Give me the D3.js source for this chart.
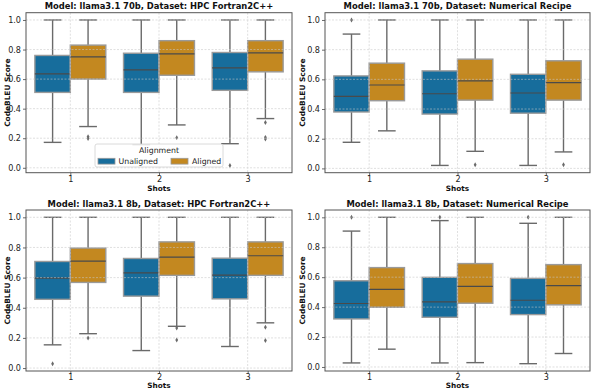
<!DOCTYPE html>
<html><head><meta charset="utf-8">
<script src="https://cdn.jsdelivr.net/npm/d3@7"></script>
<style>
body{margin:0;background:#fff;}
svg{display:block;font-family:"DejaVu Sans",sans-serif;}
</style></head>
<body>
<script>
// ---- data ----
const shots = ["1", "2", "3"];
const hues = ["Unaligned", "Aligned"];
const hueColors = ["#176d9c", "#c38820"];
const yTicks = [0.0, 0.2, 0.4, 0.6, 0.8, 1.0];
const titles = [
  "Model: llama3.1 70b, Dataset: HPC Fortran2C++",
  "Model: llama3.1 70b, Dataset: Numerical Recipe",
  "Model: llama3.1 8b, Dataset: HPC Fortran2C++",
  "Model: llama3.1 8b, Dataset: Numerical Recipe"
];
// [whiskerLow, Q1, median, Q3, whiskerHigh] per shot
const p1Unaligned = [[0.172,0.51,0.635,0.76,1.0],[0.156,0.51,0.662,0.775,1.0],[0.163,0.524,0.676,0.78,1.0]];
const p1Aligned   = [[0.279,0.60,0.75,0.83,1.0],[0.29,0.626,0.771,0.86,1.0],[0.333,0.649,0.778,0.86,1.0]];
const p1UnalignedOut = [[], [], [0.016]];
const p1AlignedOut   = [[0.21,0.198], [0.204], [0.306,0.206,0.195]];

const p2Unaligned = [[0.176,0.38,0.485,0.623,0.905],[0.02,0.366,0.503,0.657,1.0],[0.02,0.372,0.508,0.634,1.0]];
const p2Aligned   = [[0.253,0.456,0.562,0.709,1.0],[0.115,0.46,0.589,0.736,1.0],[0.111,0.46,0.578,0.725,1.0]];
const p2UnalignedOut = [[1.0], [], []];
const p2AlignedOut   = [[], [0.025], [0.025]];

const p3Unaligned = [[0.154,0.456,0.597,0.707,1.0],[0.116,0.477,0.631,0.727,1.0],[0.143,0.459,0.617,0.729,1.0]];
const p3Aligned   = [[0.228,0.568,0.709,0.796,1.0],[0.277,0.615,0.736,0.837,1.0],[0.30,0.615,0.745,0.837,1.0]];
const p3UnalignedOut = [[0.029], [], []];
const p3AlignedOut   = [[0.199], [0.266,0.186], [0.271,0.183]];

const p4Unaligned = [[0.027,0.321,0.424,0.576,0.908],[0.027,0.332,0.435,0.599,0.978],[0.022,0.35,0.446,0.592,0.96]];
const p4Aligned   = [[0.119,0.399,0.518,0.664,1.0],[0.029,0.426,0.538,0.691,1.0],[0.09,0.415,0.543,0.684,1.0]];
const p4UnalignedOut = [[1.0], [1.0], [1.0]];
const p4AlignedOut   = [[], [], []];

const panels = [
  {title: titles[0], series: [p1Unaligned, p1Aligned], outs: [p1UnalignedOut, p1AlignedOut], legend: true},
  {title: titles[1], series: [p2Unaligned, p2Aligned], outs: [p2UnalignedOut, p2AlignedOut]},
  {title: titles[2], series: [p3Unaligned, p3Aligned], outs: [p3UnalignedOut, p3AlignedOut]},
  {title: titles[3], series: [p4Unaligned, p4Aligned], outs: [p4UnalignedOut, p4AlignedOut]}
];

// ---- layout ----
const W = 592, H = 390;
const frames = [
  {x0: 26, x1: 292, y0: 12.7, y1: 172.7, labX: 10, shotsY: 191.2},
  {x0: 325, x1: 590, y0: 12.7, y1: 172.7, labX: 305, shotsY: 191.2},
  {x0: 26, x1: 292, y0: 210, y1: 371, labX: 10, shotsY: 388.4},
  {x0: 325, x1: 590, y0: 210, y1: 371, labX: 305, shotsY: 388.4}
];

const svg = d3.select("body").append("svg").attr("width", W).attr("height", H);

panels.forEach((p, i) => {
  const f = frames[i];
  // y domain from data with 5% margins (like matplotlib autoscale)
  const all = [];
  p.series.forEach(s => s.forEach(d => all.push(d[0], d[4])));
  p.outs.forEach(s => s.forEach(o => o.forEach(v => all.push(v))));
  const mn = d3.min(all), mx = d3.max(all), m = 0.05 * (mx - mn);
  const y = d3.scaleLinear().domain([mn - m, mx + m]).range([f.y1, f.y0]);
  const x = d3.scaleLinear().domain([-0.5, 2.5]).range([f.x0, f.x1]);
  const boxW = (x(0.4) - x(0));
  const g = svg.append("g");

  // boxes
  p.series.forEach((ser, h) => {
    ser.forEach((d, k) => {
      const cx0 = x(k - 0.4 + 0.4 * h), cx1 = cx0 + boxW, cm = (cx0 + cx1) / 2;
      const capHalf = boxW * 0.25;
      const wc = "#6a6a6a", ww = 1.4;
      g.append("line").attr("x1", cm).attr("x2", cm).attr("y1", y(d[3])).attr("y2", y(d[4]))
        .attr("stroke", wc).attr("stroke-width", ww);
      g.append("line").attr("x1", cm).attr("x2", cm).attr("y1", y(d[1])).attr("y2", y(d[0]))
        .attr("stroke", wc).attr("stroke-width", ww);
      g.append("line").attr("x1", cm - capHalf).attr("x2", cm + capHalf).attr("y1", y(d[4])).attr("y2", y(d[4]))
        .attr("stroke", wc).attr("stroke-width", ww);
      g.append("line").attr("x1", cm - capHalf).attr("x2", cm + capHalf).attr("y1", y(d[0])).attr("y2", y(d[0]))
        .attr("stroke", wc).attr("stroke-width", ww);
      g.append("rect").attr("x", cx0).attr("y", y(d[3])).attr("width", boxW).attr("height", y(d[1]) - y(d[3]))
        .attr("fill", hueColors[h]).attr("stroke", "#9a9a9a").attr("stroke-width", 1.4);
      g.append("line").attr("x1", cx0).attr("x2", cx1).attr("y1", y(d[2])).attr("y2", y(d[2]))
        .attr("stroke", "#4a4a4a").attr("stroke-width", 1.2);
      p.outs[h][k].forEach(v => {
        g.append("path").attr("d", d3.symbol(d3.symbolDiamond, 7)())
          .attr("transform", `translate(${cm},${y(v)})`)
          .attr("fill", "#6a6a6a");
      });
    });
  });

  // grid on top
  const grid = svg.append("g").attr("stroke", "#c8c8c8").attr("stroke-dasharray", "2,1.5")
    .attr("stroke-width", 0.8).attr("opacity", 0.7);
  yTicks.forEach(t => grid.append("line").attr("x1", f.x0).attr("x2", f.x1).attr("y1", y(t)).attr("y2", y(t)));
  shots.forEach((s, k) => grid.append("line").attr("x1", x(k)).attr("x2", x(k)).attr("y1", f.y0).attr("y2", f.y1));

  // axes
  const yAxis = d3.axisLeft(y).tickValues(yTicks).tickFormat(d3.format(".1f")).tickSize(3).tickPadding(2);
  const ga = svg.append("g").attr("transform", `translate(${f.x0},0)`).call(yAxis);
  const xAxis = d3.axisBottom(x).tickValues([0, 1, 2]).tickFormat(k => shots[k]).tickSize(3).tickPadding(0.5);
  const gb = svg.append("g").attr("transform", `translate(0,${f.y1})`).call(xAxis);
  [ga, gb].forEach(a => {
    a.select(".domain").remove();
    a.selectAll("text").attr("font-size", 8.1).attr("fill", "#222").attr("font-family", "DejaVu Sans");
    a.selectAll("line").attr("stroke", "#444").attr("stroke-width", 0.8);
  });

  // frame
  svg.append("rect").attr("x", f.x0).attr("y", f.y0).attr("width", f.x1 - f.x0).attr("height", f.y1 - f.y0)
    .attr("fill", "none").attr("stroke", "#555").attr("stroke-width", 1);

  // title
  svg.append("text").attr("x", (f.x0 + f.x1) / 2).attr("y", f.y0 - 3.4).attr("text-anchor", "middle")
    .attr("font-size", 8.4).attr("font-weight", "bold").attr("fill", "#111").text(p.title);
  // axis labels
  svg.append("text").attr("x", (f.x0 + f.x1) / 2).attr("y", f.shotsY).attr("text-anchor", "middle")
    .attr("font-size", 7.3).attr("font-weight", "bold").attr("fill", "#111").text("Shots");
  svg.append("text").attr("transform", `translate(${f.labX},${(f.y0 + f.y1) / 2}) rotate(-90)`)
    .attr("text-anchor", "middle").attr("font-size", 7.4).attr("font-weight", "bold").attr("fill", "#111")
    .text("CodeBLEU Score");

  // legend
  if (p.legend) {
    const lg = svg.append("g");
    lg.append("rect").attr("x", 95).attr("y", 144).attr("width", 128).attr("height", 23).attr("rx", 2)
      .attr("fill", "#fff").attr("fill-opacity", 0.85).attr("stroke", "#d0d0d0").attr("stroke-width", 0.8);
    lg.append("text").attr("x", 159).attr("y", 153).attr("text-anchor", "middle")
      .attr("font-size", 7.8).attr("fill", "#222").text("Alignment");
    const items = [{x: 98, tx: 118.5}, {x: 171, tx: 192}];
    hues.forEach((h, j) => {
      lg.append("rect").attr("x", items[j].x).attr("y", 158.3).attr("width", 17).attr("height", 5.8)
        .attr("fill", hueColors[j]).attr("stroke", "#9a9a9a").attr("stroke-width", 0.8);
      lg.append("text").attr("x", items[j].tx).attr("y", 164.2).attr("font-size", 7.8).attr("fill", "#222").text(h);
    });
  }
});
</script>
</body></html>
